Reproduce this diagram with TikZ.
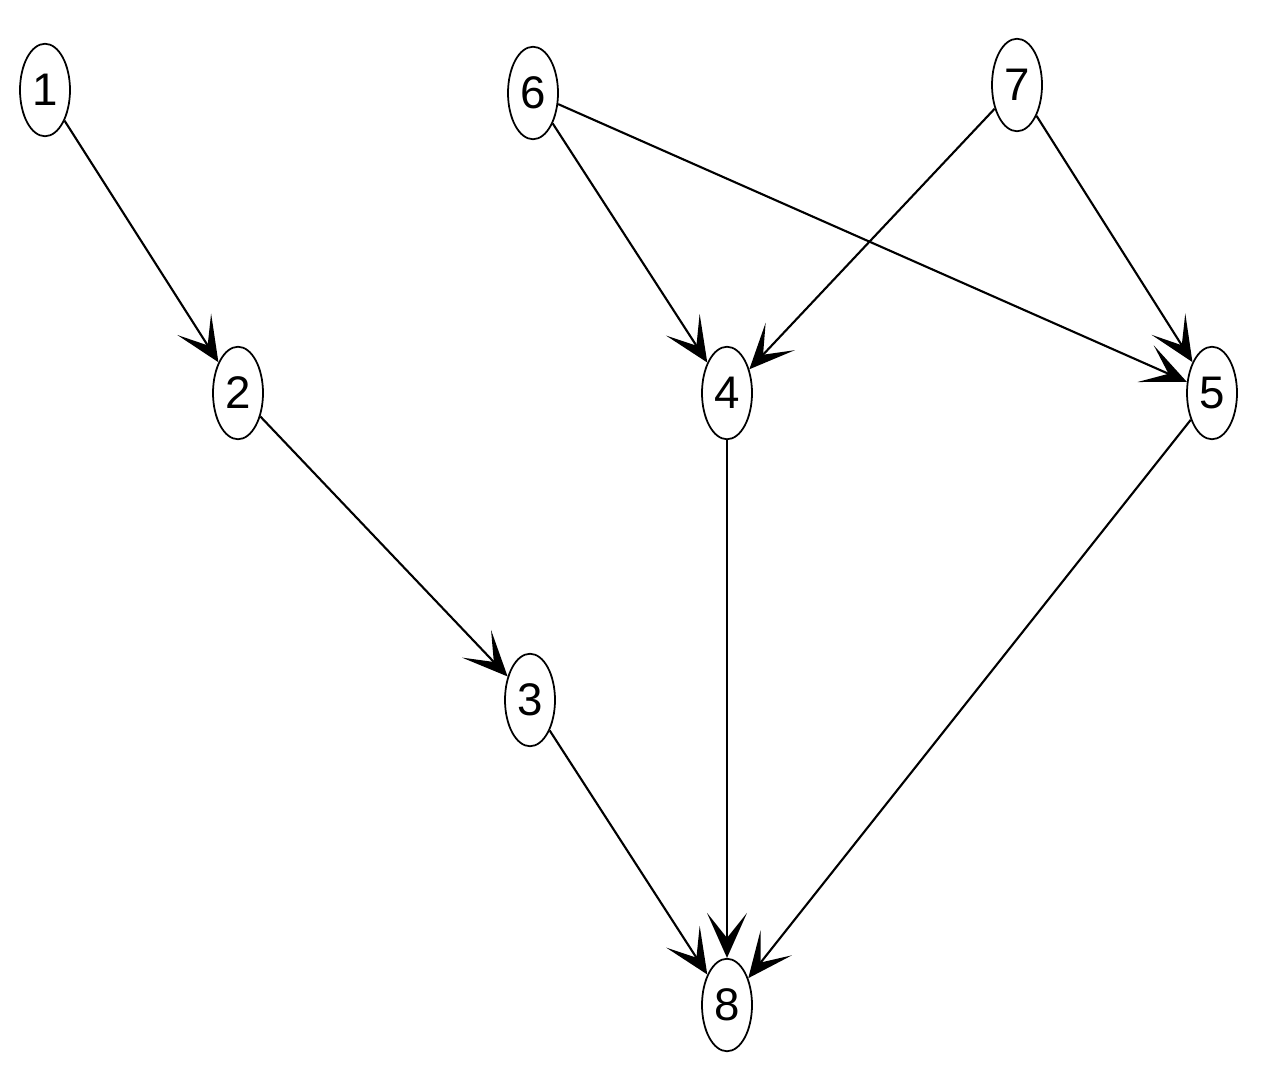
\documentclass[tikz,border=0pt]{standalone}
\usepackage{fontspec}
\setmainfont{Liberation Sans}
\usetikzlibrary{shapes.geometric,arrows.meta}
\begin{document}
\begin{tikzpicture}[x=0.02cm,y=-0.02cm,
  vert/.style={ellipse,draw,line width=1pt,minimum width=1cm,minimum height=1.85cm,inner sep=0pt,font=\fontsize{26}{30}\selectfont},
  edge/.style={line width=1.2pt,-{Stealth[length=0.9cm,width=0.8cm,inset=0.5cm]}}]
\useasboundingbox (0,0) rectangle (1262,1078);
\node[vert] (n1) at (45,90) {1};
\node[vert] (n2) at (238,393) {2};
\node[vert] (n3) at (530,700) {3};
\node[vert] (n4) at (727,393) {4};
\node[vert] (n5) at (1212,393) {5};
\node[vert] (n6) at (533,93) {6};
\node[vert] (n7) at (1017,85) {7};
\node[vert] (n8) at (727,1005) {8};
\draw[edge] (n1) -- (n2);
\draw[edge] (n2) -- (n3);
\draw[edge] (n3) -- (n8);
\draw[edge] (n4) -- (n8);
\draw[edge] (n5) -- (n8);
\draw[edge] (n6) -- (n4);
\draw[edge] (n6) -- (n5);
\draw[edge] (n7) -- (n4);
\draw[edge] (n7) -- (n5);
\end{tikzpicture}
\end{document}
